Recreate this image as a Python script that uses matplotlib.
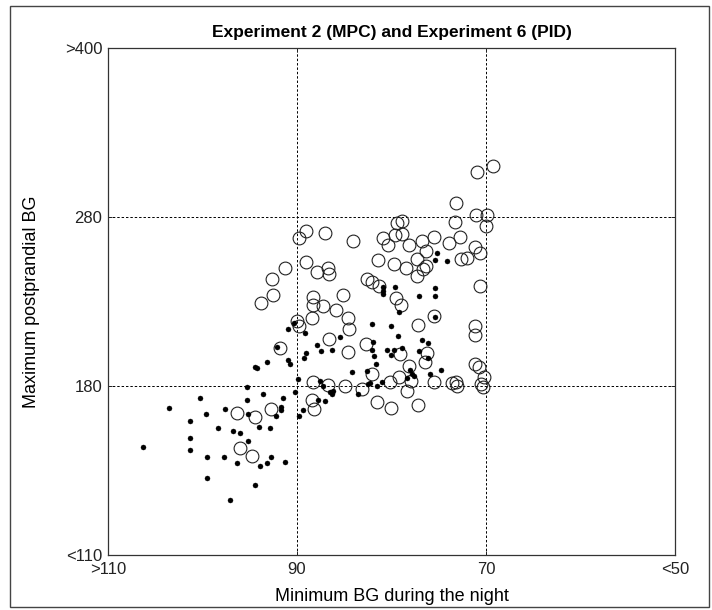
import numpy as np
import matplotlib.pyplot as plt
from matplotlib.patches import Rectangle

plt.rcParams['font.family'] = ['Liberation Sans', 'DejaVu Sans']

# zone edges of the grid (each zone gets the same width on screen)
x_ticks = [110, 90, 70, 50]
x_tick_labels = ['>110', '90', '70', '<50']
y_ticks = [110, 180, 280, 400]
y_tick_labels = ['<110', '180', '280', '>400']

# open circles: (min BG during the night, max postprandial BG)
pid_min_bg = [69.3, 71.0, 73.2, 71.1, 69.9, 70.0, 73.3, 79.4, 78.9, 89.1,
              89.8, 87.0, 84.1, 80.9, 79.6, 78.9, 80.4, 78.1, 76.8, 75.5,
              73.9, 72.8, 71.2, 76.4, 70.6, 77.3, 81.4, 79.7, 78.5, 76.7,
              76.4, 77.3, 72.6, 72.0, 91.3, 89.0, 87.9, 86.7, 86.6, 82.6,
              82.1, 81.3, 70.6, 85.1, 88.3, 88.3, 87.2, 85.9, 79.5, 79.0,
              88.4, 90.0, 89.8, 84.6, 84.5, 75.5, 77.2, 71.2, 71.2, 86.6,
              84.6, 82.7, 79.1, 76.2, 76.5, 78.1, 71.2, 70.7, 70.2, 82.1,
              79.2, 77.9, 78.4, 88.3, 86.7, 84.9, 83.1, 80.2, 75.5, 73.6,
              73.2, 73.1, 70.5, 70.3, 88.4, 81.5, 80.1, 77.2, 91.8, 88.2,
              96.3, 94.4, 92.7, 96.0, 94.8, 92.6, 92.5, 93.8]
pid_max_bg = [316.2, 311.9, 289.9, 281.4, 281.4, 274.7, 277.0, 276.4, 277.6, 271.7,
              267.6, 270.5, 265.8, 267.6, 269.3, 269.9, 263.4, 263.4, 265.8, 268.2,
              264.6, 268.2, 262.2, 259.9, 258.7, 255.1, 254.6, 252.2, 249.8, 249.2,
              251.0, 245.1, 255.1, 255.7, 249.8, 253.4, 247.5, 249.8, 246.3, 243.3,
              241.5, 239.2, 239.2, 233.8, 232.7, 227.9, 227.3, 225.0, 232.1, 227.9,
              220.2, 218.5, 215.5, 220.2, 213.7, 221.4, 216.1, 215.5, 210.2, 207.8,
              200.1, 204.9, 198.9, 199.5, 194.2, 191.8, 193.0, 191.2, 185.3, 187.1,
              185.3, 183.0, 178.1, 182.4, 180.6, 179.8, 178.6, 182.4, 182.4, 181.8,
              182.4, 180.0, 181.2, 179.4, 174.4, 173.2, 170.7, 172.3, 202.5, 170.3,
              169.0, 167.0, 170.3, 154.5, 151.2, 243.3, 233.8, 229.1]

# filled dots
mpc_min_bg = [75.2, 75.4, 74.1, 80.9, 80.9, 80.9, 79.6, 77.1, 75.4, 75.4,
              79.2, 75.4, 80.1, 79.3, 76.8, 76.1, 80.5, 79.7, 78.9, 80.1,
              77.1, 76.1, 78.0, 77.8, 78.4, 77.6, 75.9, 74.8, 81.0, 82.1,
              82.0, 82.1, 81.9, 81.6, 85.4, 87.9, 87.5, 86.3, 89.1, 89.3,
              91.0, 90.7, 84.2, 82.6, 89.9, 87.6, 87.2, 86.5, 86.2, 86.3,
              90.2, 83.5, 82.5, 82.3, 81.5, 87.8, 87.0, 91.5, 89.4, 89.8,
              91.7, 91.7, 92.2, 91.0, 90.3, 89.2, 92.1, 93.2, 94.4, 94.2,
              95.3, 100.3, 103.5, 99.6, 97.6, 95.3, 93.6, 95.2, 101.3, 98.4,
              96.8, 96.0, 94.0, 92.9, 101.3, 95.2, 106.3, 101.3, 99.5, 97.7,
              96.3, 93.9, 93.2, 92.7, 91.3, 99.5, 94.4, 97.1]
mpc_max_bg = [258.7, 254.6, 254.0, 238.6, 236.2, 234.4, 238.6, 233.3, 238.0, 233.3,
              223.8, 220.8, 215.5, 209.6, 207.2, 205.4, 201.3, 201.3, 202.5, 198.3,
              200.7, 196.6, 189.5, 187.1, 184.7, 185.9, 187.1, 189.5, 182.4, 216.7,
              206.0, 201.3, 197.8, 193.0, 209.0, 204.3, 200.7, 201.3, 199.5, 196.6,
              195.4, 193.0, 188.3, 188.9, 184.1, 183.0, 179.8, 177.7, 178.1, 176.5,
              177.7, 176.5, 181.2, 181.8, 180.0, 174.0, 173.6, 175.2, 169.9, 167.4,
              171.5, 169.9, 167.4, 213.7, 217.3, 211.4, 203.1, 194.2, 191.2, 190.7,
              179.4, 175.2, 170.7, 168.6, 170.3, 174.0, 176.5, 168.6, 165.3, 162.8,
              161.2, 160.7, 163.2, 162.8, 158.3, 157.4, 154.9, 153.3, 150.4, 150.4,
              148.3, 146.7, 148.3, 150.4, 148.7, 141.7, 138.8, 132.6]


def to_zone(v):
    return np.interp(v, y_ticks, [0, 1, 2, 3])


def from_zone(z):
    return np.interp(z, [0, 1, 2, 3], y_ticks)


fig = plt.figure(figsize=(7.12, 6.10), dpi=100)
ax = fig.add_axes([0.1517, 0.0902, 0.7963, 0.8311])
ax.set_yscale('function', functions=(to_zone, from_zone))

ax.plot(pid_min_bg, pid_max_bg, 'o', ms=9.2, mfc='none', mec='#222222', mew=0.8, zorder=3)
ax.plot(mpc_min_bg, mpc_max_bg, 'o', ms=3.6, mfc='black', mec='black', mew=0.3, zorder=4)

for xv in x_ticks[1:-1]:
    ax.axvline(xv, color='black', lw=0.7, ls=(0, (2.5, 2)), zorder=1)
for yv in y_ticks[1:-1]:
    ax.axhline(yv, color='black', lw=0.7, ls=(0, (2.5, 2)), zorder=1)

ax.set_xlim(110, 50)
ax.set_ylim(110, 400)
ax.set_xticks(x_ticks)
ax.set_xticklabels(x_tick_labels)
ax.set_yticks(y_ticks)
ax.set_yticklabels(y_tick_labels)
ax.minorticks_off()
ax.tick_params(direction='in', length=3, width=0.7, top=True, right=True,
               labelsize=12, colors='#222222')
ax.tick_params(axis='x', pad=5)
ax.tick_params(axis='y', pad=4)
for s in ax.spines.values():
    s.set_linewidth(0.9)
    s.set_color('#333333')

ax.set_title('Experiment 2 (MPC) and Experiment 6 (PID)', fontsize=12.5,
             fontweight='bold', pad=8)
ax.set_xlabel('Minimum BG during the night', fontsize=13, labelpad=8)
ax.set_ylabel('Maximum postprandial BG', fontsize=13, labelpad=18)

# thin frame round the whole picture
fig.patches.append(Rectangle((0.014, 0.005), 0.982, 0.985, transform=fig.transFigure,
                             fill=False, lw=1.0, ec='#444444'))

fig.savefig('out.png', dpi=100)
